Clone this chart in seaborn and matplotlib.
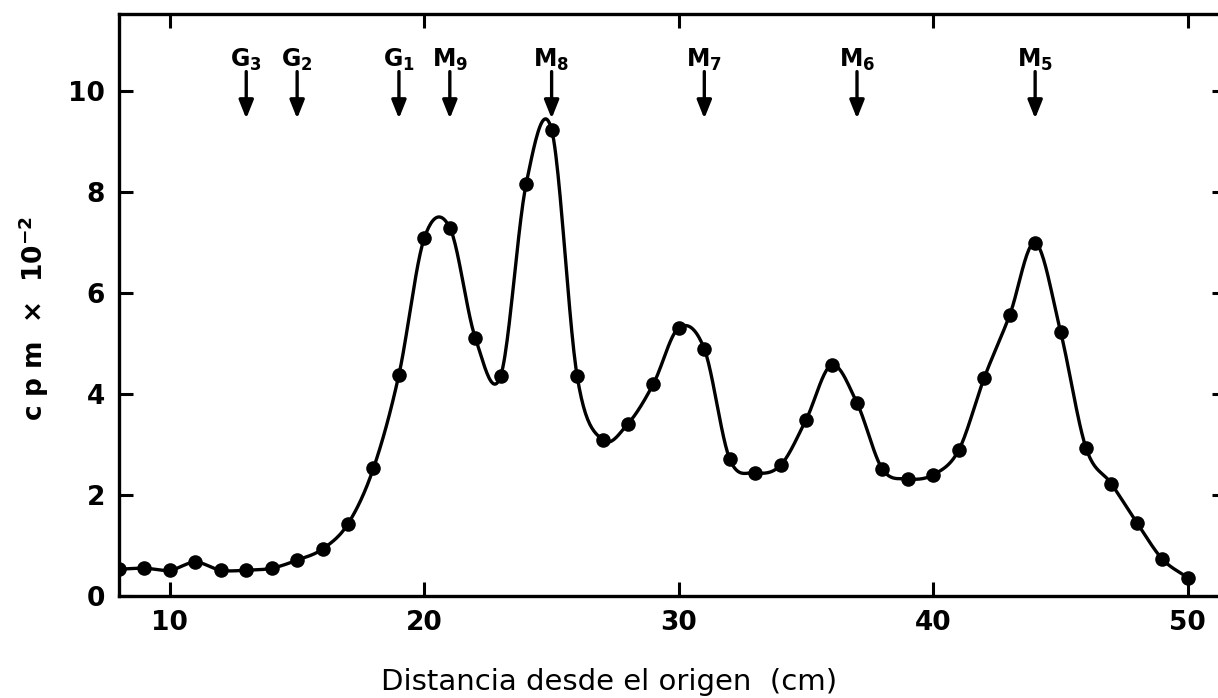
import numpy as np
import pandas as pd
import matplotlib
matplotlib.use("Agg")
import matplotlib.pyplot as plt
import seaborn as sns

# Radioactivity profile along the gel (cpm x 10^-2 vs distance from origin)
distance_cm = list(range(8, 51))
cpm_e2 = [0.53, 0.55, 0.51, 0.67, 0.51, 0.51, 0.55, 0.71, 0.93, 1.43,
          2.53, 4.38, 7.09, 7.29, 5.11, 4.36, 8.16, 9.23, 4.36, 3.09,
          3.41, 4.20, 5.31, 4.89, 2.71, 2.44, 2.59, 3.49, 4.57, 3.82,
          2.51, 2.32, 2.40, 2.89, 4.32, 5.56, 6.99, 5.23, 2.93, 2.22,
          1.45, 0.73, 0.36]

# Reference markers (arrows along the top)
marker_names = [r"G$_\mathbf{3}$", r"G$_\mathbf{2}$", r"G$_\mathbf{1}$",
                r"M$_\mathbf{9}$", r"M$_\mathbf{8}$", r"M$_\mathbf{7}$",
                r"M$_\mathbf{6}$", r"M$_\mathbf{5}$"]
marker_pos = [13, 15, 19, 21, 25, 31, 37, 44]

x_ticks = [10, 20, 30, 40, 50]
y_ticks = [0, 2, 4, 6, 8, 10]


def cardinal_spline(x, y, per_seg=24):
    """Smooth cubic Hermite curve passing through every (x, y) point."""
    x = np.asarray(x, float)
    y = np.asarray(y, float)
    m = np.empty_like(y)
    m[1:-1] = (y[2:] - y[:-2]) / (x[2:] - x[:-2])
    m[0] = (y[1] - y[0]) / (x[1] - x[0])
    m[-1] = (y[-1] - y[-2]) / (x[-1] - x[-2])
    xs, ys = [], []
    t = np.linspace(0, 1, per_seg, endpoint=False)
    h00 = 2 * t**3 - 3 * t**2 + 1
    h10 = t**3 - 2 * t**2 + t
    h01 = -2 * t**3 + 3 * t**2
    h11 = t**3 - t**2
    for i in range(len(x) - 1):
        dx = x[i + 1] - x[i]
        xs.append(x[i] + t * dx)
        ys.append(h00 * y[i] + h10 * dx * m[i] + h01 * y[i + 1] + h11 * dx * m[i + 1])
    xs.append([x[-1]])
    ys.append([y[-1]])
    return np.concatenate(xs), np.concatenate(ys)


sns.set_theme(style="ticks")
plt.rcParams["font.family"] = ["DejaVu Sans"]
plt.rcParams["font.weight"] = "bold"
plt.rcParams["mathtext.fontset"] = "dejavusans"
plt.rcParams["mathtext.default"] = "bf"
for key in ["text.color", "axes.labelcolor", "xtick.color", "ytick.color"]:
    plt.rcParams[key] = "black"

fig = plt.figure(figsize=(12.18, 6.98), dpi=100)
ax = fig.add_axes([119 / 1218, 1 - 596 / 698, (1226 - 119) / 1218, (596 - 14) / 698])

df = pd.DataFrame({"distance": distance_cm, "cpm": cpm_e2})
cx, cy = cardinal_spline(df["distance"], df["cpm"])
curve = pd.DataFrame({"distance": cx, "cpm": cy})

sns.lineplot(data=curve, x="distance", y="cpm", color="black", lw=2.4,
             estimator=None, sort=False, ax=ax, zorder=2)
sns.scatterplot(data=df, x="distance", y="cpm", color="black", s=110,
                edgecolor="black", linewidth=0, ax=ax, zorder=3)

for name, xp in zip(marker_names, marker_pos):
    ax.annotate("", xy=(xp, 9.45), xytext=(xp, 10.38),
                arrowprops=dict(arrowstyle="-|>,head_width=0.22,head_length=0.55",
                                lw=2.4, color="black", mutation_scale=20,
                                shrinkA=0, shrinkB=0))
    ax.text(xp, 10.47, name, ha="center", va="baseline", fontsize=17,
            fontweight="bold", color="black")

ax.set_xlim(8, 51.5)
ax.set_ylim(0, 11.52)
ax.set_xticks(x_ticks)
ax.set_yticks(y_ticks)
ax.set_xlabel("")
ax.set_ylabel("")

for side in ["left", "right", "top", "bottom"]:
    ax.spines[side].set_visible(True)
    ax.spines[side].set_linewidth(2.4)
    ax.spines[side].set_color("black")

ax.tick_params(axis="both", which="major", direction="in", length=10, width=2.2,
               labelsize=19, pad=10, colors="black",
               top=True, right=True, labeltop=False, labelright=False)
for lbl in ax.get_xticklabels() + ax.get_yticklabels():
    lbl.set_fontweight("bold")

fig.text(0.5, 1 - 682 / 698, "Distancia desde el origen  (cm)",
         ha="center", va="center", fontsize=21, fontweight="normal")
fig.text(34 / 1218, 1 - 319 / 698, r"c p m  ×  10$^{-2}$", rotation=90,
         ha="center", va="center", fontsize=19, fontweight="bold")

fig.savefig("out.png", dpi=100)
